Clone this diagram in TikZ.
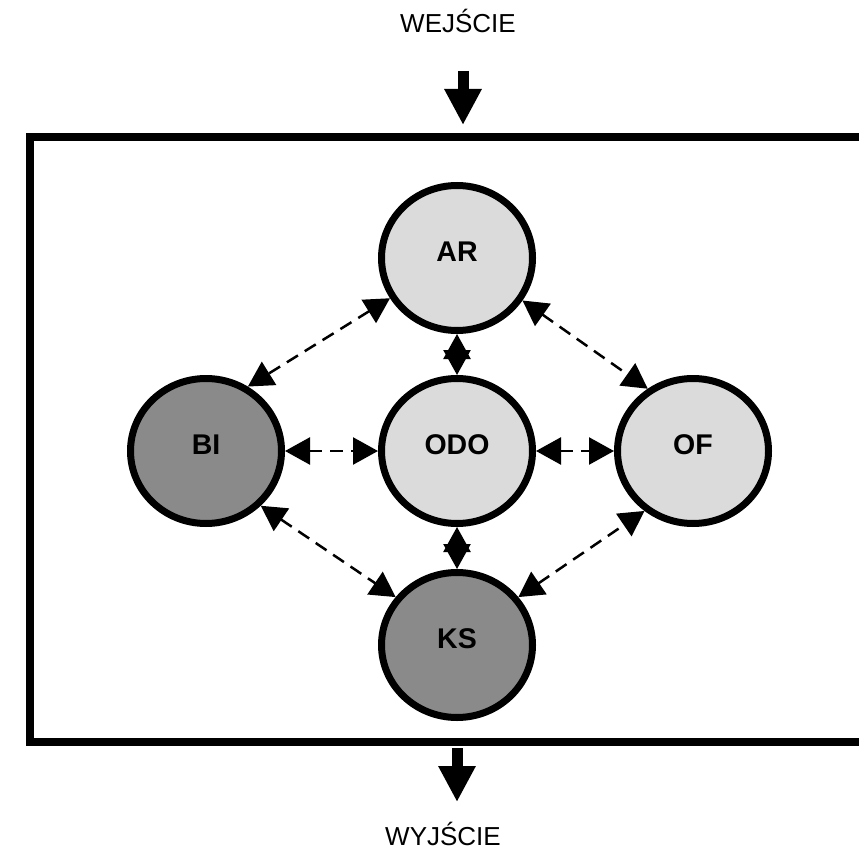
\documentclass[tikz,border=0pt]{standalone}
\usepackage{fontspec}
\setmainfont{Liberation Sans}
\usetikzlibrary{arrows.meta,shapes.geometric}

\definecolor{palefill}{gray}{0.86}
\definecolor{darkfill}{gray}{0.54}

\begin{document}
\begin{tikzpicture}[x=1pt,y=-1pt,
  bubble/.style={ellipse, draw=black, line width=7pt, minimum width=151pt,
    minimum height=145pt, inner sep=0pt, label={[bubblelabel]center:#1}},
  bubblelabel/.style={font=\fontsize{28.5}{28.5}\selectfont\bfseries, yshift=6pt},
  link/.style={line width=2.5pt, dash pattern=on 13pt off 8pt,
    {Triangle[length=25pt,width=27pt]}-{Triangle[length=25pt,width=27pt]}},
  flow/.style={line width=11pt, -{Triangle[length=36pt,width=35pt]}},
  iotext/.style={font=\fontsize{26}{26}\selectfont, anchor=base, inner sep=0pt}]

\useasboundingbox (0,0) rectangle (859,850);

% system frame, open on the right
\coordinate (fTR) at (859,137);
\coordinate (fTL) at (30,137);
\coordinate (fBL) at (30,742);
\coordinate (fBR) at (859,742);
\draw[line width=8pt] (fTR) -- (fTL) -- (fBL) -- (fBR);

% input and output
\node[iotext] (wej) at (458,33) {WEJŚCIE};
\node[iotext] (wyj) at (443,845) {WYJŚCIE};
\coordinate (inA) at (463,71);
\coordinate (inB) at (463,125);
\coordinate (outA) at (457,748);
\coordinate (outB) at (457,802);
\draw[flow] (inA) -- (inB);
\draw[flow] (outA) -- (outB);

% subsystems
\node[bubble=AR, fill=palefill] (ar) at (457,258) {};
\node[bubble=ODO, fill=palefill] (odo) at (457,451) {};
\node[bubble=BI, fill=darkfill] (bi) at (206,451) {};
\node[bubble=OF, fill=palefill] (of) at (693,451) {};
\node[bubble=KS, fill=darkfill] (ks) at (457,645) {};

% interactions
\draw[link] (ar.211) -- (bi.57);
\draw[link] (ar.327) -- (of.126);
\draw[link] (bi.315) -- (ks.142);
\draw[link] (ks.38) -- (of.231);
\draw[link] (bi.0) -- (odo.180);
\draw[link] (odo.0) -- (of.180);
\draw[link] (ar.270) -- (odo.90);
\draw[link] (odo.270) -- (ks.90);
\end{tikzpicture}
\end{document}
